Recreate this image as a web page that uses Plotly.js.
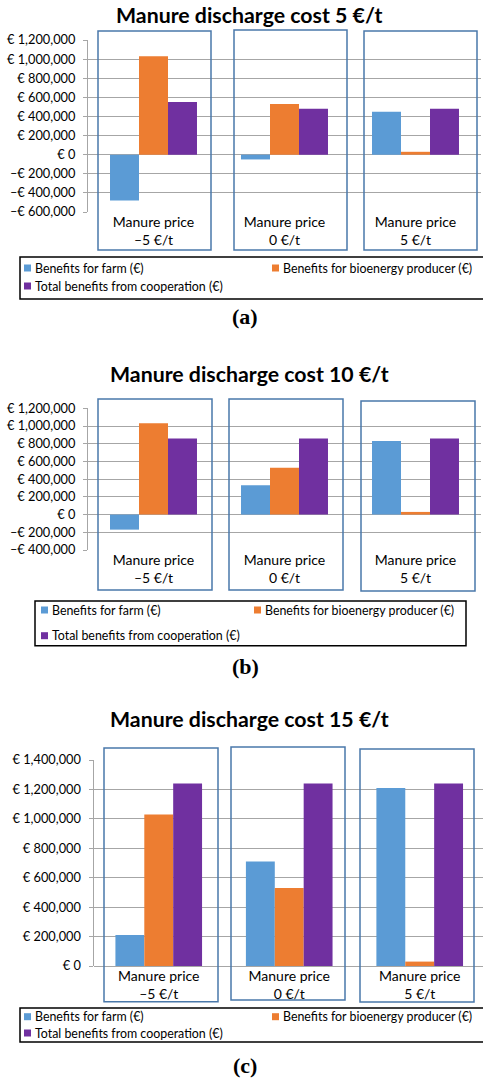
<!DOCTYPE html>
<html>
<head>
<meta charset="utf-8">
<script src="https://cdn.plot.ly/plotly-3.0.1.min.js"></script>
<style>
html,body{margin:0;padding:0;background:#fff;}
#chart{width:483px;height:1078px;}
</style>
</head>
<body>
<div id="chart"></div>
<script>
// ---------------- data ----------------
const categories = ['Manure price<br>–5 €/t', 'Manure price<br>0 €/t', 'Manure price<br>5 €/t'];
const seriesNames = ['Benefits for farm (€)', 'Benefits for bioenergy producer (€)', 'Total benefits from cooperation (€)'];
const panelTitles = ['Manure discharge cost 5 €/t', 'Manure discharge cost 10 €/t', 'Manure discharge cost 15 €/t'];
const panelTags = ['(a)', '(b)', '(c)'];

// discharge cost 5 €/t
const farmA = [-480000, -50000, 450000];
const producerA = [1030000, 530000, 30000];
const totalA = [550000, 480000, 480000];
// discharge cost 10 €/t
const farmB = [-170000, 330000, 830000];
const producerB = [1030000, 530000, 30000];
const totalB = [860000, 860000, 860000];
// discharge cost 15 €/t
const farmC = [210000, 710000, 1210000];
const producerC = [1030000, 530000, 30000];
const totalC = [1240000, 1240000, 1240000];

// y tick values and labels
const tickValsA = [-600000, -400000, -200000, 0, 200000, 400000, 600000, 800000, 1000000, 1200000];
const tickTextA = ['–€ 600,000', '–€ 400,000', '–€ 200,000', '€ 0', '€ 200,000', '€ 400,000', '€ 600,000', '€ 800,000', '€ 1,000,000', '€ 1,200,000'];
const tickValsB = [-400000, -200000, 0, 200000, 400000, 600000, 800000, 1000000, 1200000];
const tickTextB = ['–€ 400,000', '–€ 200,000', '€ 0', '€ 200,000', '€ 400,000', '€ 600,000', '€ 800,000', '€ 1,000,000', '€ 1,200,000'];
const tickValsC = [0, 200000, 400000, 600000, 800000, 1000000, 1200000, 1400000];
const tickTextC = ['€ 0', '€ 200,000', '€ 400,000', '€ 600,000', '€ 800,000', '€ 1,000,000', '€ 1,200,000', '€ 1,400,000'];

// ---------------- styling ----------------
const colors = ['#5b9bd5', '#ed7d31', '#7030a0'];
const W = 483, H = 1078;
const px = x => x / W;
const py = y => 1 - y / H;
const FONT = 'Lato, "Open Sans", sans-serif';
const GRID = '#a6a6a6';
const BOX = '#4a78aa';

const panels = [
  {s: [farmA, producerA, totalA], tv: tickValsA, tt: tickTextA, range: [-600000, 1200000],
   xd: [88, 481], xr: [-0.5, 2.5], yd: [40, 212], titleY: 15, tagY: 316,
   boxes: [[98, 31, 211, 250], [234, 30, 347, 250], [364, 31, 477, 250]],
   leg: {box: [20, 257, 490, 299], rows: [268, 286], cols: [24, 272]}},
  {s: [farmB, producerB, totalB], tv: tickValsB, tt: tickTextB, range: [-400000, 1200000],
   xd: [88, 481], xr: [-0.5, 2.5], yd: [408.3, 550], titleY: 374, tagY: 666,
   boxes: [[98, 399, 212, 590], [229, 399, 343, 590], [361, 401, 475, 591]],
   leg: {box: [35, 601, 466, 645.7], rows: [610, 635.7], cols: [41, 254]}},
  {s: [farmC, producerC, totalC], tv: tickValsC, tt: tickTextC, range: [0, 1400000],
   xd: [93.5, 483], xr: [-0.5, 2.485], yd: [760, 966], titleY: 719, tagY: 1065,
   boxes: [[104, 748, 218, 1001.7], [231, 747, 345, 1000], [360, 749, 474, 1002]],
   leg: {box: [20, 1008, 490, 1042], rows: [1016.7, 1033], cols: [24, 272]}}
];

const traces = [];
const layout = {
  width: W, height: H, autosize: false,
  margin: {l: 0, r: 0, t: 0, b: 0},
  paper_bgcolor: '#fff', plot_bgcolor: 'rgba(0,0,0,0)',
  barmode: 'group', bargap: 0.336, bargroupgap: 0,
  showlegend: false,
  font: {family: FONT, size: 12, color: '#000'},
  shapes: [], annotations: []
};

panels.forEach((p, i) => {
  const n = i === 0 ? '' : String(i + 1);
  p.s.forEach((vals, k) => {
    traces.push({
      type: 'bar', x: categories, y: vals, name: seriesNames[k],
      xaxis: 'x' + n, yaxis: 'y' + n,
      marker: {color: colors[k], line: {width: 0}},
      hoverinfo: 'y+name'
    });
  });
  layout['xaxis' + n] = {
    domain: [px(p.xd[0]), px(p.xd[1])], range: p.xr, anchor: 'y' + n,
    type: 'category', showgrid: false, zeroline: false, showline: false, ticks: '',
    tickfont: {family: FONT, size: 14, color: '#000'}, fixedrange: true
  };
  layout['yaxis' + n] = {
    domain: [py(p.yd[1]), py(p.yd[0])], range: p.range, anchor: 'x' + n,
    tickvals: p.tv, ticktext: p.tt,
    showgrid: true, gridcolor: GRID, gridwidth: 1,
    zeroline: true, zerolinecolor: GRID, zerolinewidth: 1,
    showline: true, linecolor: GRID, linewidth: 1,
    ticks: 'outside', ticklen: 4, tickcolor: GRID, tickwidth: 1,
    ticklabelstandoff: 5,
    tickfont: {family: FONT, size: 12.8, color: '#000'}, fixedrange: true
  };
  // title
  layout.annotations.push({
    xref: 'paper', yref: 'paper', x: px(249), y: py(p.titleY), xanchor: 'center', yanchor: 'middle',
    text: '<b>' + panelTitles[i] + '</b>', showarrow: false,
    font: {family: FONT, size: 21.3, color: '#000'}
  });
  // tag
  layout.annotations.push({
    xref: 'paper', yref: 'paper', x: px(245), y: py(p.tagY), xanchor: 'center', yanchor: 'middle',
    text: '<b>' + panelTags[i] + '</b>', showarrow: false,
    font: {family: '"Liberation Serif", "DejaVu Serif", serif', size: 22, color: '#000'}
  });
  // category boxes
  p.boxes.forEach(b => {
    layout.shapes.push({type: 'rect', xref: 'paper', yref: 'paper',
      x0: px(b[0]), x1: px(b[2]), y0: py(b[3]), y1: py(b[1]),
      line: {color: BOX, width: 1.5}, fillcolor: 'rgba(0,0,0,0)', layer: 'above'});
  });
  // legend box
  const L = p.leg;
  layout.shapes.push({type: 'rect', xref: 'paper', yref: 'paper',
    x0: px(L.box[0]), x1: px(L.box[2]), y0: py(L.box[3]), y1: py(L.box[1]),
    line: {color: '#000', width: 1.5}, fillcolor: '#fff', layer: 'above'});
  const pos = [[L.cols[0], L.rows[0]], [L.cols[1], L.rows[0]], [L.cols[0], L.rows[1]]];
  pos.forEach((q, k) => {
    layout.shapes.push({type: 'rect', xref: 'paper', yref: 'paper',
      x0: px(q[0]), x1: px(q[0] + 7), y0: py(q[1] + 3.5), y1: py(q[1] - 3.5),
      line: {width: 0}, fillcolor: colors[k], layer: 'above'});
    layout.annotations.push({xref: 'paper', yref: 'paper', x: px(q[0] + 9), y: py(q[1]),
      xanchor: 'left', yanchor: 'middle', text: seriesNames[k], showarrow: false,
      font: {family: FONT, size: 12.4, color: '#000'}});
  });
});

Plotly.newPlot('chart', traces, layout, {displayModeBar: false, staticPlot: true});
</script>
</body>
</html>
